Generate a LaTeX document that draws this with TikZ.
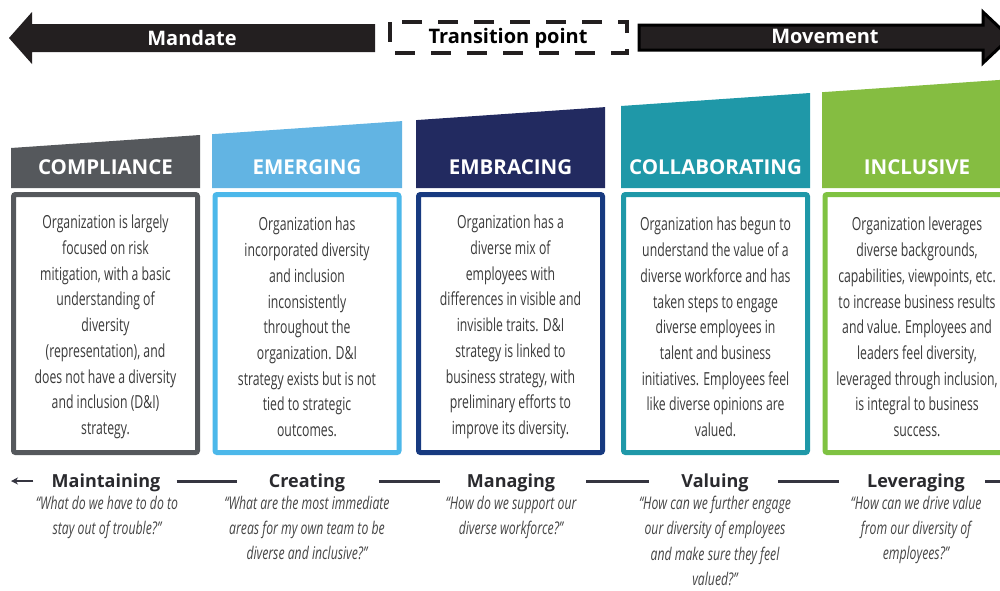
\documentclass[tikz,border=0pt]{standalone}
\usepackage{fontspec}
\setmainfont{Open Sans}
\newfontfamily\condfont[FakeStretch=0.68]{Open Sans}
\newfontfamily\quotefont[FakeStretch=0.70]{Open Sans}
\usetikzlibrary{calc,arrows.meta}
\definecolor{arrowfill}{HTML}{231F20}
\definecolor{cgray}{HTML}{55585C}
\definecolor{cblue}{HTML}{62B4E3}
\definecolor{cbluebox}{HTML}{4CB8EA}
\definecolor{cnavy}{HTML}{222A60}
\definecolor{cnavybox}{HTML}{173A80}
\definecolor{cteal}{HTML}{1F98A8}
\definecolor{cgreen}{HTML}{85BD41}
\definecolor{cgreenbox}{HTML}{7FC242}
\definecolor{bodytext}{HTML}{3A3A3A}
\definecolor{quotetext}{HTML}{454545}
\definecolor{labeltext}{HTML}{2A2A2E}
\definecolor{conncol}{HTML}{353540}
\tikzset{
  toptext/.style={font=\fontsize{20}{24}\selectfont\bfseries, inner sep=0pt},
  headtext/.style={font=\fontsize{20.5}{24}\selectfont\bfseries, text=white, inner sep=0pt},
  bodybox/.style={draw, line width=5pt, rounded corners=2pt, fill=white,
    minimum width=184pt, minimum height=258pt, inner sep=0pt},
  bodytxt/.style={align=center, text=bodytext, inner sep=0pt,
    font=\condfont\fontsize{18}{25.7}\selectfont},
  stagelabel/.style={font=\fontsize{18}{22}\selectfont\bfseries, text=labeltext, inner sep=0pt},
  quotebox/.style={anchor=north, align=center, text=quotetext, inner sep=0pt,
    font=\quotefont\itshape\fontsize{17.5}{25.2}\selectfont},
  conn/.style={draw=conncol, line width=3pt},
}
\begin{document}
\begin{tikzpicture}[x=1pt,y=-1pt]
\useasboundingbox (0,0) rectangle (1000,590);
\clip (0,0) rectangle (1000,590);
\fill[white] (0,0) rectangle (1000,590);
% top arrows
\fill[arrowfill] (375,24) -- (32,24) -- (32,12) -- (9,38) -- (32,64) -- (32,52) -- (375,52) -- cycle;
\node[toptext, text=white] (mandate) at (192,37.5) {Mandate};
\draw[arrowfill, line width=4pt, dash pattern=on 20pt off 16pt] (390,22) rectangle (627,53);
\node[toptext, text=black] (transition) at (508,38.5) {Transition point};
\filldraw[fill=arrowfill, draw=black, line width=3pt, line join=miter]
  (639,25) -- (983,25) -- (983,12) -- (1010,37.5) -- (983,63) -- (983,50) -- (639,50) -- cycle;
\node[toptext, text=white] (movement) at (825,36) {Movement};
% headers
\fill[cgray]  (11,148)  -- (200,135)   -- (200,188) -- (11,188)  -- cycle;
\fill[cblue]  (212,134.2) -- (402,121.1) -- (402,188) -- (212,188) -- cycle;
\fill[cnavy]  (416,120.1) -- (605,107.1) -- (605,188) -- (416,188) -- cycle;
\fill[cteal]  (621,106)  -- (810,93)    -- (810,188) -- (621,188) -- cycle;
\fill[cgreen] (822,92.2) -- (1012,79.1) -- (1012,188) -- (822,188) -- cycle;
\node[headtext] (h1) at (105.5,167) {COMPLIANCE};
\node[headtext] (h2) at (307,167) {EMERGING};
\node[headtext] (h3) at (510.5,167) {EMBRACING};
\node[headtext] (h4) at (715.5,167) {COLLABORATING};
\node[headtext] (h5) at (917,167) {INCLUSIVE};
% body boxes
\node[bodybox, draw=cgray] (b1) at (105.5,323.5) {};
\node[bodybox, draw=cbluebox] (b2) at (307,323.5) {};
\node[bodybox, draw=cnavybox] (b3) at (510.5,323.5) {};
\node[bodybox, draw=cteal] (b4) at (715.5,323.5) {};
\node[bodybox, draw=cgreenbox] (b5) at (917,323.5) {};
\node[bodytxt] (t1) at ([yshift=-3.5pt]b1.center) {Organization is largely\\focused on risk\\mitigation, with a basic\\understanding of\\diversity\\(representation), and\\does not have a diversity\\and inclusion (D\&I)\\strategy.};
\node[bodytxt] (t2) at ([yshift=-3.5pt]b2.center) {Organization has\\incorporated diversity\\and inclusion\\inconsistently\\throughout the\\organization. D\&I\\strategy exists but is not\\tied to strategic\\outcomes.};
\node[bodytxt] (t3) at ([yshift=-3.5pt]b3.center) {Organization has a\\diverse mix of\\employees with\\differences in visible and\\invisible traits. D\&I\\strategy is linked to\\business strategy, with\\preliminary efforts to\\improve its diversity.};
\node[bodytxt] (t4) at ([yshift=-3.5pt]b4.center) {Organization has begun to\\understand the value of a\\diverse workforce and has\\taken steps to engage\\diverse employees in\\talent and business\\initiatives. Employees feel\\like diverse opinions are\\valued.};
\node[bodytxt] (t5) at ([yshift=-3.5pt]b5.center) {Organization leverages\\diverse backgrounds,\\capabilities, viewpoints, etc.\\to increase business results\\and value. Employees and\\leaders feel diversity,\\leveraged through inclusion,\\is integral to business\\success.};
% stage labels
\node[stagelabel] (l1) at (106,482.5) {Maintaining};
\node[stagelabel] (l2) at (307,482.5) {Creating};
\node[stagelabel] (l3) at (511,482.5) {Managing};
\node[stagelabel] (l4) at (715,482.5) {Valuing};
\node[stagelabel] (l5) at (916,482.5) {Leveraging};
% quotes
\node[quotebox] (q1) at (107,496) {“What do we have to do to\\stay out of trouble?”};
\node[quotebox] (q2) at (307,496) {“What are the most immediate\\areas for my own team to be\\diverse and inclusive?”};
\node[quotebox] (q3) at (511,496) {“How do we support our\\diverse workforce?”};
\node[quotebox] (q4) at (715,496) {“How can we further engage\\our diversity of employees\\and make sure they feel\\valued?”};
\node[quotebox] (q5) at (916,496) {“How can we drive value\\from our diversity of\\employees?”};
% connectors
\coordinate (ly) at (0,481);
\path (l1.east |- ly) -- (l2.west |- ly) coordinate[midway] (m12);
\path (l2.east |- ly) -- (l3.west |- ly) coordinate[midway] (m23);
\path (l3.east |- ly) -- (l4.west |- ly) coordinate[midway] (m34);
\path (l4.east |- ly) -- (l5.west |- ly) coordinate[midway] (m45);
\draw[conn] ([xshift=-38pt]m12) -- ([xshift=22pt]m12);
\draw[conn] ([xshift=-27pt]m23) -- ([xshift=34pt]m23);
\draw[conn] ([xshift=-32pt]m34) -- ([xshift=31pt]m34);
\draw[conn] ([xshift=-30pt]m45) -- ([xshift=31pt]m45);
\coordinate (lend) at (11,481);
\coordinate (rend) at (1005,481);
\draw[draw=conncol, line width=2pt, -{Stealth[length=7pt,width=7pt]}] ([xshift=-18pt]l1.west |- lend) -- (lend);
\draw[conn] ([xshift=20pt]l5.east |- rend) -- (rend);
\end{tikzpicture}
\end{document}
